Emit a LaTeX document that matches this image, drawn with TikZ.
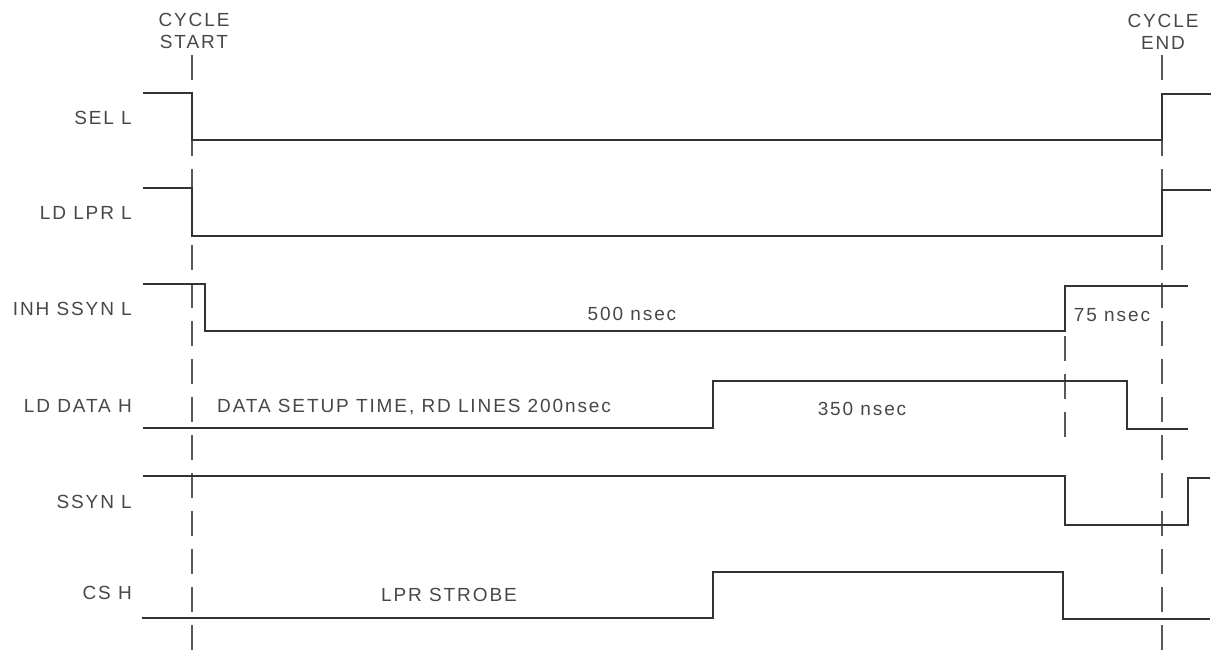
\documentclass[tikz,border=0pt]{standalone}
\usepackage{fontspec}
\setmainfont[LetterSpace=10]{Liberation Sans}
\tikzstyle{wave}=[line width=2.2pt, draw=black!80, line join=miter]
\tikzstyle{marker}=[line width=1.3pt, draw=black!65, dash pattern=on 25pt off 13pt]
\tikzstyle{sig}=[anchor=base east, inner sep=0pt, text=black!72, font=\fontsize{19}{22}\selectfont]
\tikzstyle{note}=[anchor=base, inner sep=0pt, text=black!72, font=\fontsize{19}{22}\selectfont]

\begin{document}
\begin{tikzpicture}[x=1pt, y=-1pt]
				\useasboundingbox (0,0) rectangle (1216,654);

				\coordinate (starttop) at (192,55);
				\coordinate (startbot) at (192,654);
				\coordinate (endtop) at (1162,55);
				\coordinate (endbot) at (1162,654);
				\coordinate (synctop) at (1065,336);
				\coordinate (syncbot) at (1065,447);

				\node[note, anchor=center, align=center] (start) at (194,30.5) {CYCLE\\START};
				\node[note, anchor=center, align=center] (finish) at (1163,32) {CYCLE\\END};

				\node[sig] (sel) at (132,124) {SEL L};
				\node[sig] (ldlpr) at (132,219.5) {LD LPR L};
				\node[sig] (inh) at (132,315) {INH SSYN L};
				\node[sig] (lddata) at (132,412) {LD DATA H};
				\node[sig] (ssyn) at (132,508.5) {SSYN L};
				\node[sig] (cs) at (132,599) {CS H};

				\node[note] (t500) at (632,320) {500 nsec};
				\node[note] (t75) at (1112,321) {75 nsec};
				\node[note, anchor=base west] (setup) at (217,412) {DATA SETUP TIME, RD LINES 200nsec};
				\node[note] (t350) at (862,415) {350 nsec};
				\node[note] (strobe) at (449,601) {LPR STROBE};

				\draw[marker] (starttop) -- (startbot);
				\draw[marker] (endtop) -- (endbot);
				\draw[marker] (synctop) -- (syncbot);

				\draw[wave] (143,93) -| (192,140) -| (1162,94) -- (1211,94);
				\draw[wave] (143,188) -| (192,236) -| (1162,190) -- (1211,190);
				\draw[wave] (143,284) -| (205,331) -| (1065,286) -- (1188,286);
				\draw[wave] (143,428) -| (713,381) -| (1127,429) -- (1188,429);
				\draw[wave] (143,476) -| (1065,525) -| (1188,478) -- (1210,478);
				\draw[wave] (142,618) -| (713,572) -| (1063,619) -- (1210,619);
			\end{tikzpicture}
\end{document}
